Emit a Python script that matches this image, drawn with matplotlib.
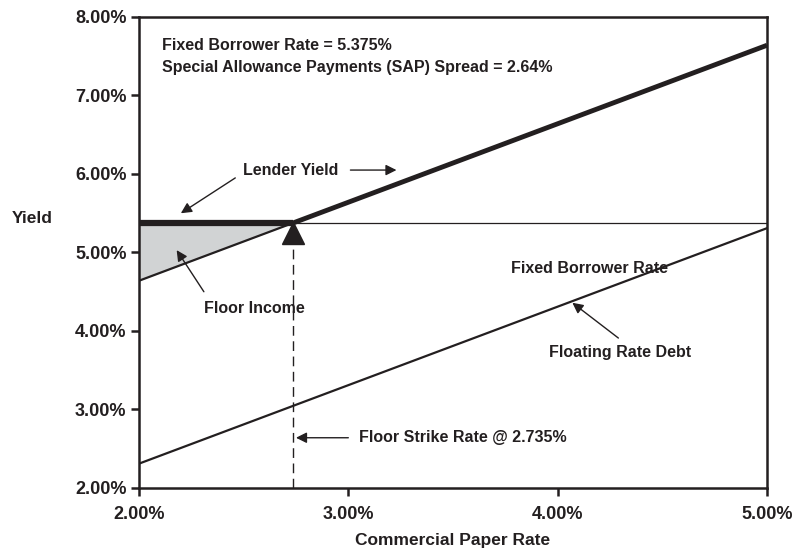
import matplotlib.pyplot as plt
import numpy as np

plt.rcParams["font.family"] = ["Liberation Sans", "DejaVu Sans"]
plt.rcParams["font.weight"] = "bold"
plt.rcParams["axes.labelweight"] = "bold"

ink = "#231f20"

# inputs
fixed_rate = 5.375
sap_spread = 2.64
strike = 2.735
debt_spread = 0.31
cp_range = [2.0, 5.0]

x_ticks = [2.0, 3.0, 4.0, 5.0]
y_ticks = [2.0, 3.0, 4.0, 5.0, 6.0, 7.0, 8.0]

cp = np.array(cp_range)
above = np.array([strike, cp_range[1]])
below = np.array([cp_range[0], strike])

fig, ax = plt.subplots(figsize=(7.96, 5.57), dpi=100)
fig.subplots_adjust(left=0.1746, right=0.9636, bottom=0.1239, top=0.9695)

# floor income area
ax.fill_between(below, below + sap_spread, fixed_rate, color="#d1d3d4", lw=0)
ax.plot(below, below + sap_spread, color=ink, lw=1.6)

# fixed borrower rate
ax.plot(cp, [fixed_rate, fixed_rate], color=ink, lw=0.9)

# lender yield
ax.plot(below, [fixed_rate, fixed_rate], color=ink, lw=4.5, solid_capstyle="butt")
ax.plot(above, above + sap_spread, color=ink, lw=3.5, solid_capstyle="butt")

# floating rate debt
ax.plot(cp, cp + debt_spread, color=ink, lw=1.6)

# strike marker and dashed line
ax.plot([strike], [fixed_rate - 0.125], marker="^", ms=16, color=ink, mec=ink)
ax.plot([strike, strike], [cp_range[0], fixed_rate - 0.25], color=ink, lw=1,
        dashes=(7, 4))

ax.set_xlim(cp_range)
ax.set_ylim(y_ticks[0], y_ticks[-1])
ax.set_xticks(x_ticks)
ax.set_yticks(y_ticks)
ax.set_xticklabels([f"{v:.2f}%" for v in x_ticks])
ax.set_yticklabels([f"{v:.2f}%" for v in y_ticks])
ax.tick_params(direction="out", length=6, width=1.8, colors=ink, labelsize=13,
               pad=3)
ax.tick_params(axis="x", pad=7)
for s in ax.spines.values():
    s.set_linewidth(1.8)
    s.set_color(ink)

ax.set_xlabel("Commercial Paper Rate", fontsize=12.5, color=ink, labelpad=7)
ax.set_ylabel("Yield", fontsize=12.5, color=ink, rotation=0, va="center",
              ha="center")
ax.yaxis.set_label_coords(-0.17, 0.573)

ax.text(2.11, 7.64, f"Fixed Borrower Rate = {fixed_rate}%", fontsize=11.5,
        color=ink, va="center")
ax.text(2.11, 7.36,
        f"Special Allowance Payments (SAP) Spread = {sap_spread:.2f}%",
        fontsize=11.5, color=ink, va="center")

arrow = dict(arrowstyle="-|>", color=ink, lw=1, mutation_scale=16,
             shrinkA=0, shrinkB=0)

ax.text(2.727, 6.05, "Lender Yield", fontsize=11.5, color=ink,
        ha="center", va="center")
ax.annotate("", xy=(2.20, 5.50), xytext=(2.46, 5.95), arrowprops=arrow)
ax.annotate("", xy=(3.23, 6.05), xytext=(3.01, 6.05), arrowprops=arrow)

ax.text(2.55, 4.29, "Floor Income", fontsize=11.5, color=ink,
        ha="center", va="center")
ax.annotate("", xy=(2.18, 5.03), xytext=(2.31, 4.50), arrowprops=arrow)

ax.text(4.15, 4.80, "Fixed Borrower Rate", fontsize=11.5, color=ink,
        ha="center", va="center")

ax.text(4.30, 3.73, "Floating Rate Debt", fontsize=11.5, color=ink,
        ha="center", va="center")
ax.annotate("", xy=(4.07, 4.36), xytext=(4.29, 3.91), arrowprops=arrow)

ax.text(3.05, 2.64, f"Floor Strike Rate @ {strike}%", fontsize=11.5,
        color=ink, ha="left", va="center")
ax.annotate("", xy=(2.75, 2.64), xytext=(3.0, 2.64), arrowprops=arrow)

plt.savefig("out.png", dpi=100)
